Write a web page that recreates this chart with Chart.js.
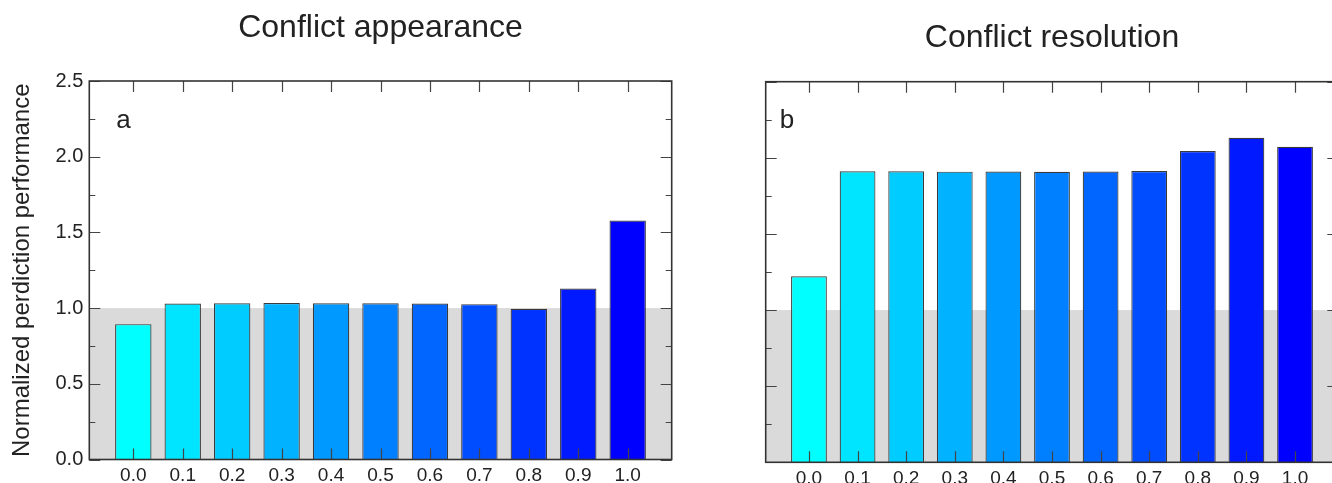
<!DOCTYPE html>
<html>
<head>
<meta charset="utf-8">
<script src="https://cdn.jsdelivr.net/npm/chart.js@4.4.1/dist/chart.umd.min.js"></script>
<style>
  html, body { margin: 0; padding: 0; background: #fff; width: 1332px; height: 483px; overflow: hidden; }
  .panel { position: absolute; top: 0; height: 483px; }
  #boxA { left: 0; width: 690px; }
  #boxB { left: 756px; width: 600px; }
</style>
</head>
<body>
<div class="panel" id="boxA"><canvas id="chartA"></canvas></div>
<div class="panel" id="boxB"><canvas id="chartB"></canvas></div>
<script>
// data
const levels = [0.0, 0.1, 0.2, 0.3, 0.4, 0.5, 0.6, 0.7, 0.8, 0.9, 1.0];
const appearance = [0.894, 1.030, 1.032, 1.034, 1.032, 1.032, 1.030, 1.026, 0.996, 1.129, 1.578];
const resolution = [1.222, 1.911, 1.911, 1.909, 1.910, 1.908, 1.910, 1.913, 2.045, 2.132, 2.073];
const yTicks = [0.0, 0.5, 1.0, 1.5, 2.0, 2.5];
const baseline = 1.0;

const barColors = ['#00ffff', '#00e5ff', '#00ccff', '#00b2ff', '#0099ff', '#0080ff',
                   '#0066ff', '#004cff', '#0033ff', '#0019ff', '#0000ff'];
const FONT = '"Liberation Sans", Arial, Helvetica, sans-serif';
const INK = '#222';

// grey band, inward ticks, box frame and panel letter
const framePlugin = {
  id: 'frame',
  beforeDatasetsDraw(chart) {
    const { ctx, chartArea: a, scales: { y } } = chart;
    const top = y.getPixelForValue(baseline), bot = y.getPixelForValue(0);
    ctx.save();
    ctx.fillStyle = '#dadada';
    ctx.fillRect(a.left, top, a.right - a.left, bot - top);
    ctx.restore();
  },
  afterDatasetsDraw(chart, args, opts) {
    const { ctx, chartArea: a, scales: { x, y } } = chart;
    ctx.save();
    ctx.strokeStyle = '#444';
    ctx.lineWidth = 1.2;
    ctx.beginPath();
    levels.forEach(v => {
      const px = Math.round(x.getPixelForValue(v)) + 0.5;
      ctx.moveTo(px, a.top); ctx.lineTo(px, a.top + 11);
      ctx.moveTo(px, a.bottom); ctx.lineTo(px, a.bottom - 11);
    });
    for (let i = 0; i < yTicks.length; i++) {
      const py = Math.round(y.getPixelForValue(yTicks[i])) + 0.5;
      ctx.moveTo(a.left, py); ctx.lineTo(a.left + 11, py);
      ctx.moveTo(a.right, py); ctx.lineTo(a.right - 11, py);
      if (i < yTicks.length - 1) {
        const pm = Math.round(y.getPixelForValue((yTicks[i] + yTicks[i + 1]) / 2)) + 0.5;
        ctx.moveTo(a.left, pm); ctx.lineTo(a.left + 6, pm);
        ctx.moveTo(a.right, pm); ctx.lineTo(a.right - 6, pm);
      }
    }
    ctx.stroke();
    ctx.strokeStyle = '#333';
    ctx.lineWidth = 1.6;
    ctx.strokeRect(a.left, a.top, a.right - a.left, a.bottom - a.top);
    ctx.fillStyle = INK;
    ctx.font = '26px ' + FONT;
    ctx.textBaseline = 'alphabetic';
    ctx.fillText(opts.letter, a.left + opts.dx, a.top + opts.dy);
    ctx.restore();
  }
};

function makeChart(id, title, values, o) {
  return new Chart(document.getElementById(id), {
    type: 'bar',
    data: {
      datasets: [{
        data: levels.map((v, i) => ({ x: v, y: values[i] })),
        backgroundColor: barColors,
        borderColor: '#3a3a3a',
        borderWidth: 1.2,
        categoryPercentage: 0.8,
        barPercentage: 0.92
      }]
    },
    options: {
      responsive: true,
      maintainAspectRatio: false,
      animation: false,
      layout: { padding: { left: 0, right: o.padRight, top: 0, bottom: 0 } },
      plugins: {
        legend: { display: false },
        tooltip: { enabled: false },
        title: {
          display: true,
          text: title,
          fullSize: false,
          color: INK,
          font: { family: FONT, size: 32, weight: 'normal' },
          padding: { top: o.titleTop, bottom: o.titleBottom }
        },
        frame: { letter: o.letter, dx: o.letterDx, dy: o.letterDy }
      },
      scales: {
        x: {
          type: 'linear',
          offset: false,
          min: -0.089,
          max: 1.089,
          grid: { display: false, drawTicks: false },
          border: { display: false },
          afterBuildTicks: s => { s.ticks = levels.map(v => ({ value: v })); },
          afterFit: s => { s.height = o.xHeight; },
          ticks: {
            color: INK,
            padding: 5,
            maxRotation: 0,
            font: { family: FONT, size: 19 },
            callback: v => Number(v).toFixed(1)
          }
        },
        y: {
          min: 0,
          max: 2.5,
          grid: { display: false, drawTicks: false },
          border: { display: false },
          afterBuildTicks: s => { s.ticks = yTicks.map(v => ({ value: v })); },
          afterFit: s => { s.width = o.yWidth; },
          ticks: {
            display: o.yLabels,
            color: INK,
            padding: 6,
            font: { family: FONT, size: 20 },
            callback: v => Number(v).toFixed(1)
          },
          title: {
            display: o.yLabels,
            text: 'Normalized perdiction performance',
            color: INK,
            font: { family: FONT, size: 24 },
            padding: { top: 8, bottom: 0 }
          }
        }
      }
    },
    plugins: [framePlugin]
  });
}

makeChart('chartA', 'Conflict appearance', appearance, {
  padRight: 18.3, titleTop: 9.3, titleBottom: 33.3, xHeight: 23.5, yWidth: 89.3,
  yLabels: true, letter: 'a', letterDx: 27, letterDy: 47
});
makeChart('chartB', 'Conflict resolution', resolution, {
  padRight: 17.7, titleTop: 18.7, titleBottom: 24.6, xHeight: 20.7, yWidth: 9.7,
  yLabels: false, letter: 'b', letterDx: 14, letterDy: 46.3
});
</script>
</body>
</html>
